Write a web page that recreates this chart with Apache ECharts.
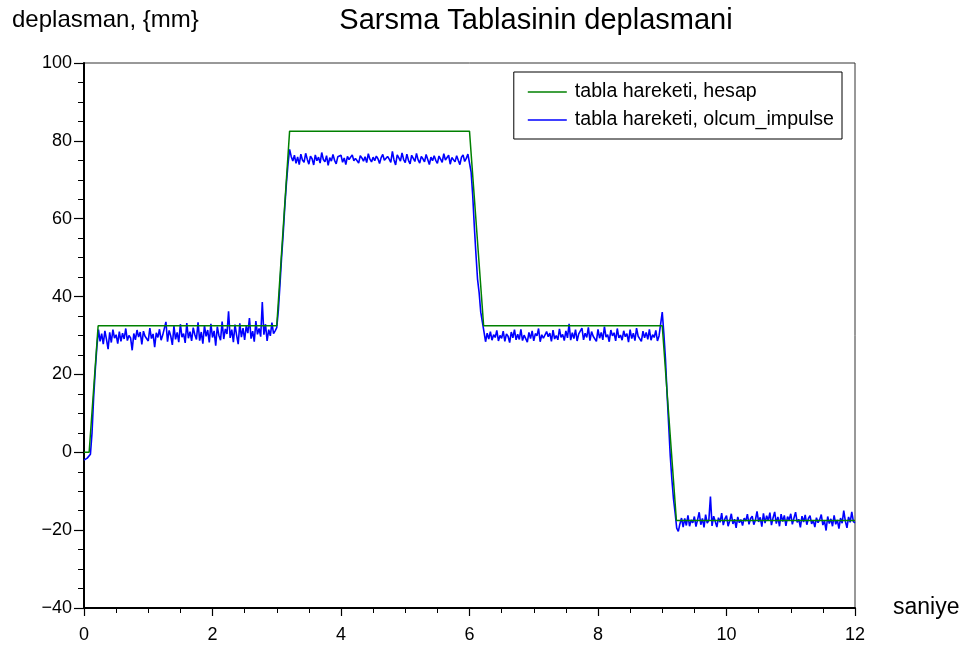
<!DOCTYPE html>
<html>
<head>
<meta charset="utf-8">
<script src="https://cdn.jsdelivr.net/npm/echarts@6/dist/echarts.min.js"></script>
<style>
  html, body { margin: 0; padding: 0; background: #fff; }
  #chart { width: 968px; height: 653px; }
</style>
</head>
<body>
<div id="chart"></div>
<script>
// Commanded table motion: corner points [time s, displacement mm]
const hesapTimes = [0, 0.08, 0.22, 3.0, 3.2, 6.0, 6.22, 9.0, 9.22, 12];
const hesapValues = [0, 0, 32.5, 32.5, 82.5, 82.5, 32.5, 32.5, -17.5, -17.5];

// Measured table displacement, sampled every SAMPLE_DT seconds from t = 0
const SAMPLE_DT = 0.025;
const olcumStart = [-2.0, -2.3, -1.5, -1.8, -0.5, 5, 14, 21, 27, 31.5];
const olcumLevel1 = [
  28.5, 30.5, 27.8, 31.2, 29.0, 26.5, 30.8, 28.2, 31.5, 29.3,
  30.2, 27.9, 31.0, 28.5, 30.6, 29.1, 31.8, 28.7, 30.0, 29.4,
  26.2, 30.5, 28.9, 31.4, 29.6, 30.9, 27.7, 31.1, 29.8, 30.3,
  28.6, 31.9, 29.2, 30.4, 27.0, 30.7, 29.5, 31.6, 28.8, 30.1,
  29.7, 33.5, 28.4, 31.3, 29.9, 27.6, 32.4, 29.0, 30.8, 28.3,
  32.9, 29.6, 30.5, 28.1, 33.2, 29.3, 31.0, 28.6, 32.0, 30.2,
  29.0, 33.4, 28.7, 30.9, 27.9, 32.6, 29.8, 31.4, 28.2, 33.0,
  29.5, 31.2, 27.4, 32.3, 30.0, 28.8, 33.6, 29.1, 31.7, 30.4,
  36.2, 29.4, 31.5, 28.3, 32.8, 30.1, 27.8, 33.1, 29.6, 31.9,
  28.9, 32.4, 30.6, 34.5, 29.2, 31.1, 28.4, 33.7, 30.3, 31.8,
  29.7, 38.6, 30.2, 32.9, 28.6, 31.5, 29.9, 33.3, 30.5, 31.2
];
const olcumRise = [32.0, 36.5, 43, 50, 56, 63, 69, 74, 77.8, 76];
const olcumLevel2 = [
  74.8, 76.3, 74.2, 75.9, 73.9, 76.6, 75.1, 74.5, 76.8, 75.3,
  74.0, 76.1, 75.4, 73.8, 76.4, 74.9, 75.8, 74.3, 77.0, 75.2,
  74.6, 76.2, 73.7, 75.7, 74.8, 76.5, 75.0, 74.1, 75.9, 75.4,
  76.3, 74.5, 75.6, 73.9, 76.0, 75.2, 74.7, 76.4, 74.9, 75.5,
  75.1, 74.3, 76.2, 75.6, 74.8, 75.9, 74.4, 76.7, 75.3, 74.6,
  75.8, 74.9, 76.1, 75.4, 74.2, 75.7, 76.5, 75.0, 74.7, 76.0,
  75.3, 74.5, 77.3, 75.1, 73.8, 76.4, 75.6, 74.8, 76.9, 75.2,
  74.4, 76.6, 75.0, 74.1, 76.3, 75.5, 74.7, 76.8, 75.1, 74.3,
  76.0, 75.4, 74.6, 76.5, 75.2, 73.9, 75.8, 74.9, 76.2, 75.0,
  74.2, 76.1, 75.3, 74.5, 76.7, 75.1, 74.8, 76.3, 74.0, 75.7,
  75.4, 74.6, 76.2, 75.0, 73.9, 75.8, 76.4, 74.7, 75.5, 76.6
];
const olcumFall1 = [77.0, 72, 66, 58, 51, 44.5, 41, 36, 33.5, 31];
const olcumLevel3 = [
  28.4, 30.6, 29.1, 31.0, 28.8, 30.2, 29.5, 31.3, 28.6, 30.0,
  29.3, 31.1, 28.5, 30.4, 29.8, 28.2, 30.9, 29.4, 31.5, 28.9,
  30.3, 29.0, 31.6, 28.7, 30.1, 29.6, 28.3, 30.8, 29.2, 31.2,
  28.6, 30.5, 29.9, 31.8, 28.4, 30.2, 29.3, 28.8, 31.0, 29.7,
  30.6, 28.5, 31.4, 29.1, 30.0, 28.9, 31.7, 29.5, 30.3, 28.7,
  31.2, 29.4, 33.0, 28.8, 30.7, 29.2, 31.5, 28.6, 30.4, 29.9,
  31.9, 28.9, 30.6, 29.5, 32.1, 28.7, 31.0, 29.8, 30.3, 28.5,
  31.6, 29.3, 30.8, 28.9, 32.3, 29.6, 30.2, 28.4, 31.4, 29.9,
  30.7, 28.6, 31.8, 29.4, 30.1, 28.8, 31.2, 29.7, 30.5, 28.3,
  31.5, 29.2, 30.6, 28.7, 31.9, 29.8, 30.3, 28.5, 31.1, 29.4,
  30.8, 29.0, 31.6, 28.8, 30.2, 29.5, 31.3, 28.6, 29.9, 30.4
];
const olcumFall2 = [36.0, 30.5, 24, 15, 7, -1, -7, -12, -15.5, -19.5];
const olcumLevel4 = [
  -20.3, -18.4, -16.9, -19.2, -17.0, -18.8, -16.2, -19.0, -17.4, -18.1,
  -16.5, -19.1, -17.3, -15.4, -18.6, -17.0, -19.3, -16.0, -18.2, -17.5,
  -11.4, -18.9, -16.4, -17.8, -19.2, -16.8, -18.0, -15.6, -18.7, -17.1,
  -16.3, -19.0, -17.6, -15.8, -18.4, -17.2, -19.4, -16.6, -18.1, -17.3,
  -18.8, -16.9, -17.7, -15.9, -18.5, -17.0, -16.4, -18.6, -17.4, -15.2,
  -17.9, -16.7, -19.1, -15.7, -18.2, -16.3, -17.6, -15.5, -18.7, -16.8,
  -15.3, -18.3, -16.6, -19.0, -15.9, -17.8, -16.2, -18.9, -16.5, -17.4,
  -15.8, -18.5, -16.9, -15.4, -18.0, -17.2, -19.3, -16.4, -17.9, -16.1,
  -18.6, -17.0, -16.3, -18.4, -17.5, -19.2, -16.8, -18.1, -17.3, -16.0,
  -18.7, -17.6, -20.1, -16.5, -18.3, -17.1, -19.0, -16.2, -18.5, -17.4,
  -19.6, -16.9, -18.2, -15.0, -17.7, -19.4, -16.6, -18.0, -15.3, -17.8, -18.1
];

const xTicks = [0, 2, 4, 6, 8, 10, 12];
const yTicks = [-40, -20, 0, 20, 40, 60, 80, 100];

const olcumValues = [].concat(olcumStart, olcumLevel1, olcumRise, olcumLevel2,
  olcumFall1, olcumLevel3, olcumFall2, olcumLevel4);
const olcumData = olcumValues.map((v, i) => [+(i * SAMPLE_DT).toFixed(3), v]);
const hesapData = hesapTimes.map((t, i) => [t, hesapValues[i]]);

const FONT = '"Liberation Sans", Arial, sans-serif';
const minus = s => String(s).replace('-', '\u2212');

const chart = echarts.init(document.getElementById('chart'), null, { renderer: 'canvas' });
chart.setOption({
  animation: false,
  backgroundColor: '#ffffff',
  title: [
    {
      text: 'Sarsma Tablasinin deplasmani',
      left: 531, top: 1, textAlign: 'center',
      textStyle: { fontFamily: FONT, fontSize: 29, fontWeight: 'normal', color: '#000' }
    },
    {
      text: 'deplasman, {mm}',
      left: 7, top: 3,
      textStyle: { fontFamily: FONT, fontSize: 24, fontWeight: 'normal', color: '#000' }
    }
  ],
  legend: {
    orient: 'vertical',
    right: 126, top: 72,
    padding: [10, 8, 9, 14],
    itemWidth: 39, itemHeight: 1.6, itemGap: 8,
    icon: 'rect',
    backgroundColor: '#fff',
    borderColor: '#000', borderWidth: 1,
    textStyle: { fontFamily: FONT, fontSize: 19.6, lineHeight: 19, color: '#000', padding: [0, 0, 0, 3] },
    data: ['tabla hareketi, hesap', 'tabla hareketi, olcum_impulse']
  },
  grid: {
    left: 84, right: 113, top: 63, bottom: 45,
    show: true, borderColor: '#333', borderWidth: 1, backgroundColor: 'transparent'
  },
  xAxis: {
    type: 'value', min: xTicks[0], max: xTicks[xTicks.length - 1], interval: 2,
    name: 'saniye', nameLocation: 'end', nameGap: 38,
    nameTextStyle: { fontFamily: FONT, fontSize: 23, color: '#000', verticalAlign: 'middle' },
    axisLine: { show: true, onZero: false, lineStyle: { color: '#000', width: 2 } },
    axisTick: { show: true, length: 8, lineStyle: { color: '#000', width: 1.2 } },
    minorTick: { show: true, splitNumber: 4, length: 5, lineStyle: { color: '#000', width: 1 } },
    axisLabel: { fontFamily: FONT, fontSize: 18, color: '#000', margin: 18, formatter: v => minus(v) },
    splitLine: { show: false }
  },
  yAxis: {
    type: 'value', min: yTicks[0], max: yTicks[yTicks.length - 1], interval: 20,
    axisLine: { show: true, onZero: false, lineStyle: { color: '#000', width: 2 } },
    axisTick: { show: true, length: 10, lineStyle: { color: '#000', width: 1.2 } },
    minorTick: { show: true, splitNumber: 4, length: 6, lineStyle: { color: '#000', width: 1 } },
    axisLabel: { fontFamily: FONT, fontSize: 18, color: '#000', margin: 12, formatter: v => minus(v) },
    splitLine: { show: false }
  },
  series: [
    {
      name: 'tabla hareketi, hesap',
      type: 'line', data: hesapData, symbol: 'none', z: 3,
      lineStyle: { color: '#008000', width: 1.5 }, itemStyle: { color: '#008000' }
    },
    {
      name: 'tabla hareketi, olcum_impulse',
      type: 'line', data: olcumData, symbol: 'none', z: 2,
      lineStyle: { color: '#0000ff', width: 1.6 }, itemStyle: { color: '#0000ff' }
    }
  ]
});
</script>
</body>
</html>
